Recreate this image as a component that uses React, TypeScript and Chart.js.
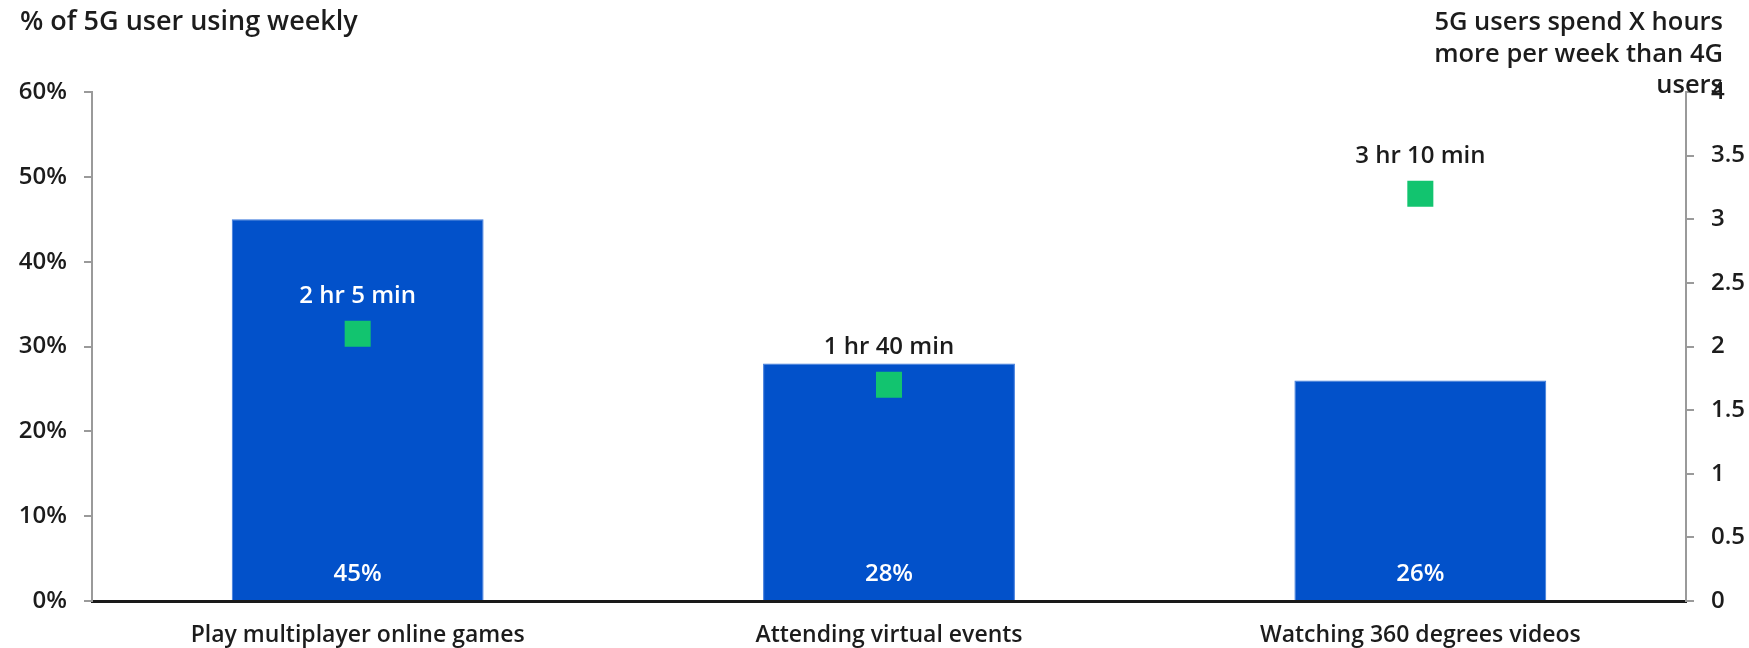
import React, { useEffect, useRef } from "react";
import { Chart, registerables } from "chart.js";

Chart.register(...registerables);

const categories = [
  "Play multiplayer online games",
  "Attending virtual events",
  "Watching 360 degrees videos",
];
const shareValues = [45, 28, 26];
const shareLabels = ["45%", "28%", "26%"];
const extraHours = [2.1, 1.7, 3.2];
const extraLabels = ["2 hr 5 min", "1 hr 40 min", "3 hr 10 min"];
const extraLabelColors = ["#ffffff", "#1c1c1c", "#1c1c1c"];
const leftTitle = "% of 5G user using weekly";
const rightTitle = ["5G users spend X hours", "more per week than 4G", "users"];

const FONT = "'Open Sans', 'Noto Sans', sans-serif";
const TEXT = "#1c1c1c";
const BLUE = "#0251CA";
const GREEN = "#12C46F";
const AXIS_GREY = "#9a9a9a";

const labelsPlugin = {
  id: "customLabels",
  afterDatasetsDraw(chart: any) {
    const ctx = chart.ctx;
    ctx.save();
    ctx.textAlign = "center";
    ctx.textBaseline = "middle";
    ctx.font = `600 24px ${FONT}`;
    const barMeta = chart.getDatasetMeta(0);
    barMeta.data.forEach((bar: any, i: number) => {
      ctx.fillStyle = "#ffffff";
      ctx.fillText(shareLabels[i], bar.x, bar.base - 26);
    });
    const ptMeta = chart.getDatasetMeta(1);
    ptMeta.data.forEach((pt: any, i: number) => {
      ctx.fillStyle = extraLabelColors[i];
      ctx.fillText(extraLabels[i], pt.x, pt.y - 38);
    });
    ctx.restore();
  },
  afterDraw(chart: any) {
    const ctx = chart.ctx;
    ctx.save();
    ctx.fillStyle = TEXT;
    ctx.textBaseline = "middle";
    ctx.textAlign = "left";
    ctx.font = `600 27px ${FONT}`;
    ctx.fillText(leftTitle, 20, 22);
    ctx.textAlign = "right";
    ctx.font = `600 25.5px ${FONT}`;
    rightTitle.forEach((line, i) => {
      ctx.fillText(line, 1723, 23 + i * 31.5);
    });
    ctx.restore();
  },
};

export default function App() {
  const ref = useRef<HTMLCanvasElement>(null);
  useEffect(() => {
    document.body.style.margin = "0";
    const tickFont = { family: FONT, size: 24, weight: 600 as any };
    const xFont = { family: FONT, size: 23, weight: 600 as any };
    const chart = new Chart(ref.current as HTMLCanvasElement, {
      type: "bar",
      data: {
        labels: categories,
        datasets: [
          {
            type: "bar",
            label: "% of 5G user using weekly",
            data: shareValues,
            backgroundColor: BLUE,
            borderColor: "#3a78dc",
            borderWidth: 1,
            yAxisID: "y",
            categoryPercentage: 1,
            barPercentage: 0.474,
            order: 1,
          },
          {
            type: "line",
            label: "5G users spend X hours more per week than 4G users",
            data: extraHours,
            showLine: false,
            pointStyle: "rect",
            pointRadius: 18.4,
            pointHoverRadius: 18.4,
            pointBackgroundColor: GREEN,
            pointBorderWidth: 0,
            yAxisID: "y2",
            order: 0,
          } as any,
        ],
      },
      options: {
        responsive: false,
        animation: false,
        devicePixelRatio: 1,
        layout: { padding: { top: 92, left: 0, right: 0, bottom: 0 } },
        plugins: {
          legend: { display: false },
          tooltip: { enabled: false },
        },
        scales: {
          x: {
            grid: { display: false, drawTicks: false },
            border: { display: true, color: "#1a1a1a", width: 3 },
            ticks: { color: TEXT, font: xFont, padding: 21 },
            afterFit: (s: any) => {
              s.height = 47;
            },
          },
          y: {
            position: "left",
            min: 0,
            max: 60,
            ticks: {
              stepSize: 10,
              color: TEXT,
              font: tickFont,
              padding: 17,
              callback: (v: any) => `${v}%`,
            },
            grid: {
              drawOnChartArea: false,
              drawTicks: true,
              tickLength: 8,
              color: AXIS_GREY,
              lineWidth: 2,
            },
            border: { display: true, color: AXIS_GREY, width: 2 },
            afterFit: (s: any) => {
              s.width = 92;
            },
          },
          y2: {
            position: "right",
            min: 0,
            max: 4,
            ticks: {
              stepSize: 0.5,
              color: TEXT,
              font: tickFont,
              padding: 17,
              callback: (v: any) => String(v),
            },
            grid: {
              drawOnChartArea: false,
              drawTicks: true,
              tickLength: 8,
              color: AXIS_GREY,
              lineWidth: 2,
            },
            border: { display: true, color: AXIS_GREY, width: 2 },
            afterFit: (s: any) => {
              s.width = 63;
            },
          },
        },
      },
      plugins: [labelsPlugin],
    });
    return () => chart.destroy();
  }, []);
  return (
    <div style={{ width: 1749, height: 648, position: "relative" }}>
      <canvas ref={ref} width={1749} height={648} style={{ display: "block" }} />
    </div>
  );
}
